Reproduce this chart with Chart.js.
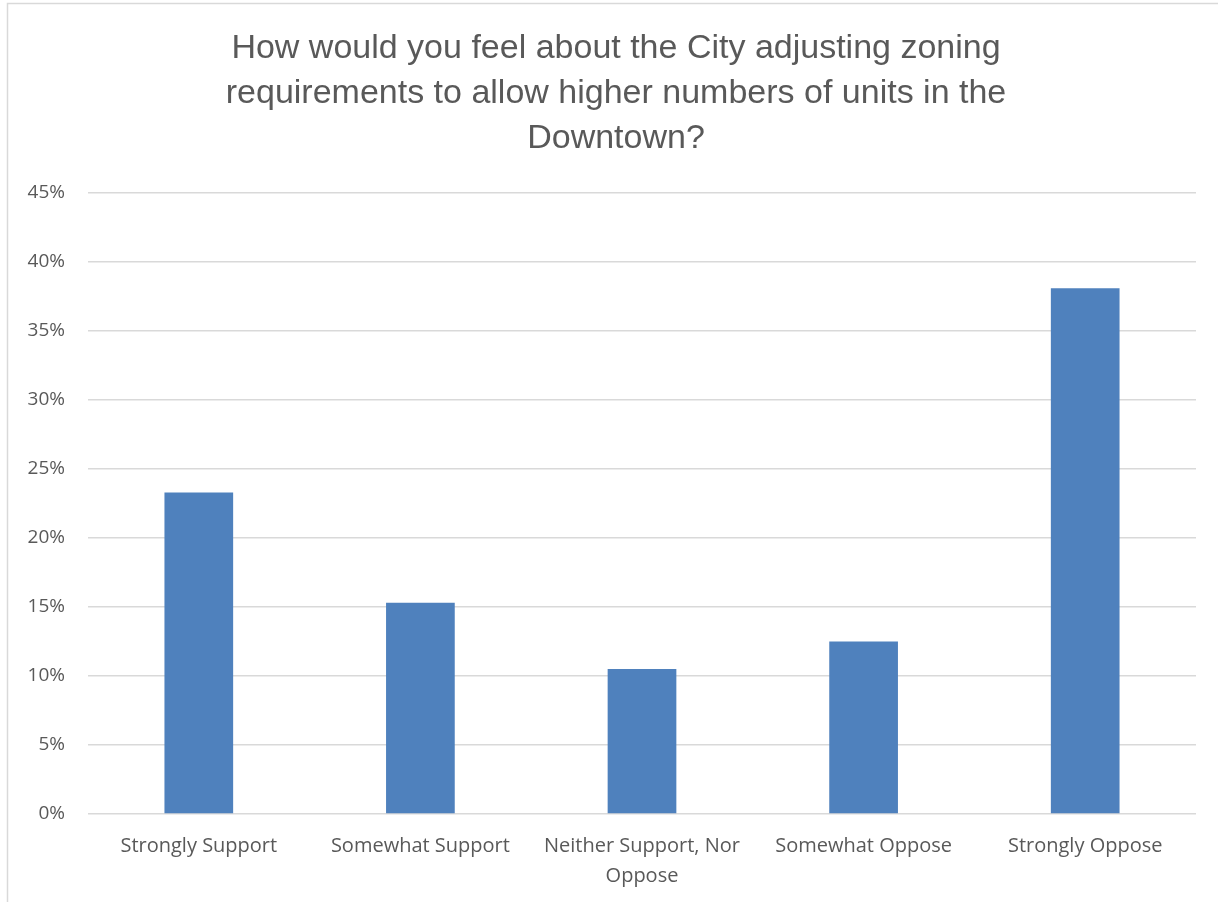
<!DOCTYPE html>
<html>
<head>
<meta charset="utf-8">
<title>Downtown zoning survey</title>
<script src="https://cdn.jsdelivr.net/npm/chart.js@4.4.1/dist/chart.umd.min.js"></script>
<style>
    html, body { margin: 0; padding: 0; background: #ffffff; }
    #wrap { position: relative; width: 1218px; height: 902px; }
</style>
</head>
<body>
<div id="wrap"><canvas id="zoningChart" width="1218" height="902"></canvas></div>
<script>
// Survey responses (percent of respondents)
const categories = [
    'Strongly Support',
    'Somewhat Support',
    ['Neither Support, Nor', 'Oppose'],
    'Somewhat Oppose',
    'Strongly Oppose'
];
const responses = [23.3, 15.3, 10.5, 12.5, 38.1];
const yTicks = [0, 5, 10, 15, 20, 25, 30, 35, 40, 45];

const titleLines = [
    'How would you feel about the City adjusting zoning',
    'requirements to allow higher numbers of units in the',
    'Downtown?'
];

const textColor = '#595959';
const gridColor = '#d9d9d9';
const titleFont = '34px "Liberation Sans", Arial, sans-serif';
const tickFamily = '"Open Sans", "Liberation Sans", sans-serif';

// light frame around the chart plus the three-line heading
const framePlugin = {
    id: 'frame',
    beforeDraw(chart) {
        const ctx = chart.ctx;
        ctx.save();
        ctx.fillStyle = '#ffffff';
        ctx.fillRect(0, 0, chart.width, chart.height);
        ctx.strokeStyle = gridColor;
        ctx.lineWidth = 1.5;
        ctx.beginPath();
        ctx.moveTo(7.5, chart.height + 2);
        ctx.lineTo(7.5, 3.5);
        ctx.lineTo(chart.width + 2, 3.5);
        ctx.stroke();
        ctx.restore();
    },
    afterDraw(chart) {
        const ctx = chart.ctx;
        ctx.save();
        ctx.font = titleFont;
        ctx.fillStyle = textColor;
        ctx.textAlign = 'center';
        ctx.textBaseline = 'middle';
        titleLines.forEach((line, i) => {
            ctx.fillText(line, 616, 49 + i * 45);
        });
        ctx.restore();
    }
};

const canvas = document.getElementById('zoningChart');
new Chart(canvas.getContext('2d'), {
    type: 'bar',
    data: {
        labels: categories,
        datasets: [{
            label: 'Responses',
            data: responses,
            backgroundColor: '#4f81bd',
            borderWidth: 0,
            barPercentage: 0.31,
            categoryPercentage: 1
        }]
    },
    options: {
        responsive: false,
        animation: false,
        layout: { padding: { left: 0, right: 22, top: 193, bottom: 0 } },
        plugins: {
            legend: { display: false },
            tooltip: { enabled: false },
            title: { display: false }
        },
        scales: {
            x: {
                grid: { display: false, drawTicks: false },
                border: { display: false },
                ticks: {
                    color: textColor,
                    font: { family: tickFamily, size: 20, lineHeight: 1.5 },
                    padding: 17,
                    maxRotation: 0,
                    autoSkip: false
                },
                afterFit(scale) { scale.height = 88; }
            },
            y: {
                min: 0,
                max: 45,
                afterBuildTicks(scale) {
                    scale.ticks = yTicks.map(v => ({ value: v }));
                },
                grid: { color: gridColor, lineWidth: 1.5, drawTicks: false },
                border: { display: false },
                ticks: {
                    color: textColor,
                    font: { family: tickFamily, size: 19 },
                    padding: 23,
                    callback: v => v + '%'
                },
                afterFit(scale) { scale.width = 88; }
            }
        }
    },
    plugins: [framePlugin]
});
</script>
</body>
</html>
